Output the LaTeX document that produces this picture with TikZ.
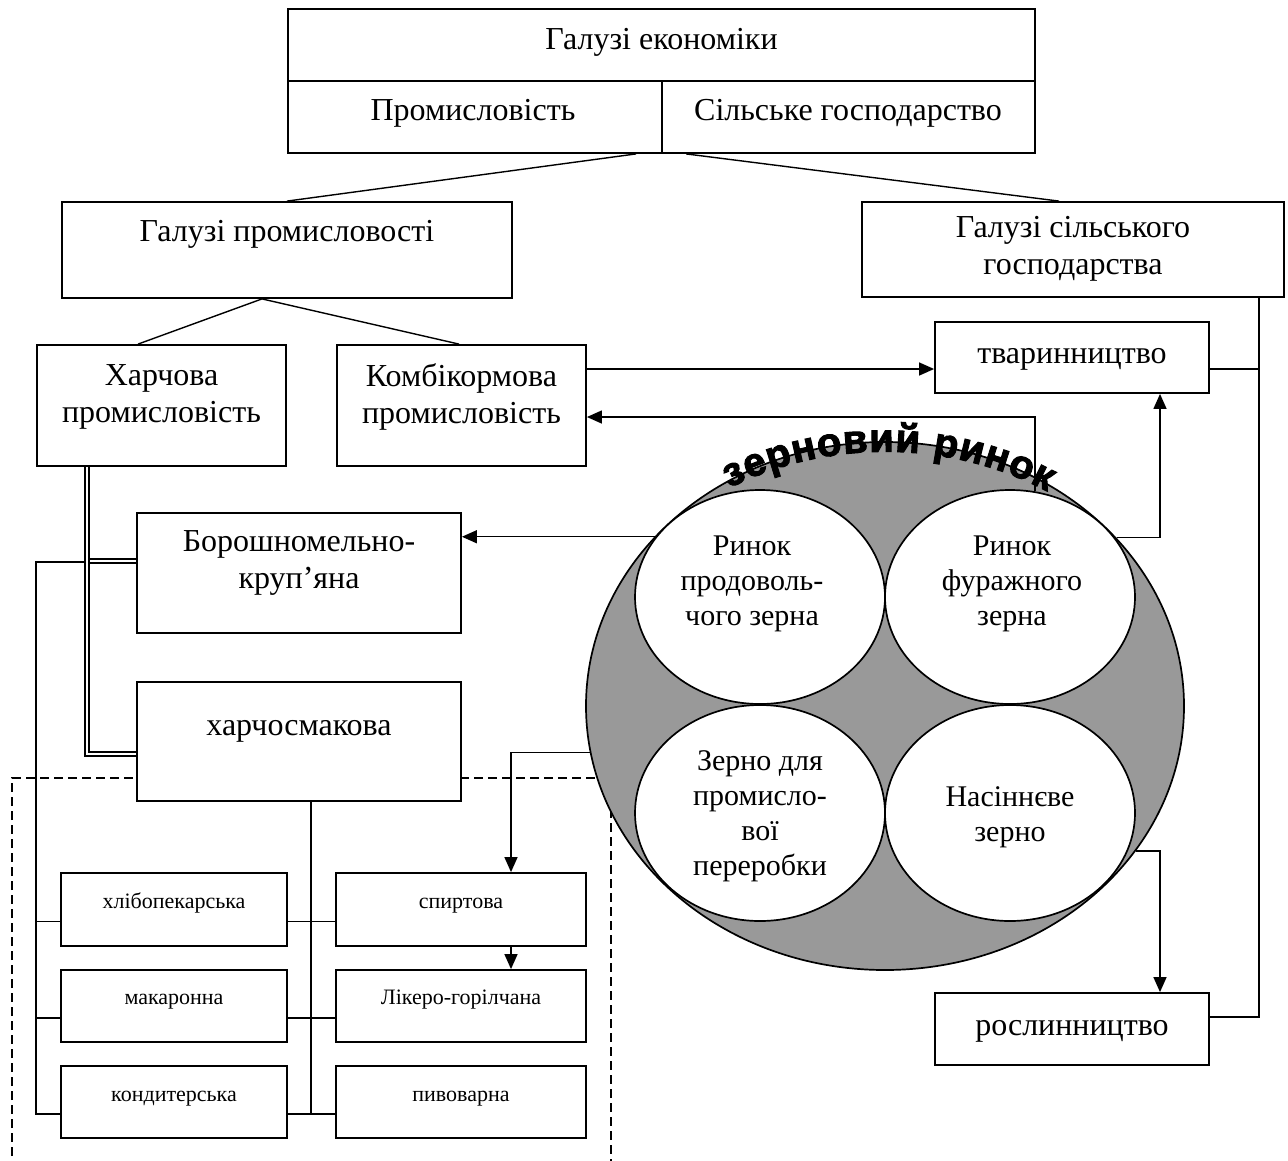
\documentclass[tikz,border=0pt]{standalone}
\usepackage{fontspec}
\setmainfont{Liberation Serif}
\newfontfamily\arcfont{Liberation Sans}[BoldFeatures={FakeBold=2.5}]
\usetikzlibrary{shapes.geometric,arrows.meta,decorations.text,calc}
\definecolor{ringray}{RGB}{153,153,153}
\newcommand\mainsz{\fontsize{32}{37}\selectfont}
\newcommand\ellsz{\fontsize{30}{35}\selectfont}
\newcommand\smallsz{\fontsize{22}{26}\selectfont}
\newcommand\arcsz{\arcfont\bfseries\fontsize{40}{40}\selectfont}
\begin{document}
\begin{tikzpicture}[x=1pt,y=-1pt,
 box/.style={draw,line width=1.8pt,fill=white,inner sep=0pt},
 txt/.style={inner sep=0pt,align=center,font=\mainsz},
 btxt/.style={inner sep=0pt,anchor=base,font=\mainsz},
 etxt/.style={inner sep=0pt,align=center,font=\ellsz},
 stxt/.style={inner sep=0pt,anchor=base,font=\smallsz},
 ln/.style={line width=1.4pt},
 dbl/.style={line width=1.1pt},
 arr/.style={ln,-{Triangle[length=15pt,width=13pt]}},
 dsh/.style={line width=1.3pt,dash pattern=on 9pt off 5pt},
 ell/.style={ellipse,draw,line width=1.7pt,inner sep=0pt}]
\useasboundingbox (0,0) rectangle (1288,1160);

% dashed frame
\draw[dsh] (12,1170) -- (12,778) -- (611,778) -- (611,1170);

% boxes
\node[box,minimum width=747pt,minimum height=72pt] (econ) at (661.5,45) {};
\node[box,minimum width=374pt,minimum height=72pt] (prom) at (475,117) {};
\node[box,minimum width=373pt,minimum height=72pt] (silg) at (848.5,117) {};
\node[box,minimum width=450pt,minimum height=96pt] (galprom) at (287,250) {};
\node[box,minimum width=422pt,minimum height=95pt] (galsg) at (1073,249.5) {};
\node[box,minimum width=249pt,minimum height=121pt] (harch) at (161.5,405.5) {};
\node[box,minimum width=249pt,minimum height=121pt] (komb) at (461.5,405.5) {};
\node[box,minimum width=274pt,minimum height=71pt] (tvar) at (1072,357.5) {};
\node[box,minimum width=324pt,minimum height=120pt] (boro) at (299,573) {};
\node[box,minimum width=324pt,minimum height=119pt] (harchsm) at (299,741.5) {};
\node[box,minimum width=226pt,minimum height=73pt] (hlib) at (174,909.5) {};
\node[box,minimum width=226pt,minimum height=72pt] (makar) at (174,1006) {};
\node[box,minimum width=226pt,minimum height=72pt] (kond) at (174,1102) {};
\node[box,minimum width=250pt,minimum height=73pt] (spirt) at (461,909.5) {};
\node[box,minimum width=250pt,minimum height=72pt] (liker) at (461,1006) {};
\node[box,minimum width=250pt,minimum height=72pt] (pyvo) at (461,1102) {};
\node[box,minimum width=274pt,minimum height=72pt] (rosl) at (1072,1029) {};

% texts
\node[btxt] (t-econ) at (661.5,49) {Галузі економіки};
\node[btxt] (t-prom) at (473,120) {Промисловість};
\node[btxt] (t-silg) at (848,120) {Сільське господарство};
\node[btxt] (t-galprom) at (287,241) {Галузі промисловості};
\node[txt] (t-galsg) at (1073,249) {Галузі сільського\\господарства};
\node[txt] (t-harch) at (161.5,397) {Харчова\\промисловість};
\node[txt] (t-komb) at (461.5,397) {Комбікормова\\промисловість};
\node[btxt] (t-tvar) at (1072,363) {тваринництво};
\node[txt] (t-boro) at (299,563) {Борошномельно-\\круп’яна};
\node[btxt] (t-harchsm) at (299,735) {харчосмакова};
\node[stxt] (t-hlib) at (174,908) {хлібопекарська};
\node[stxt] (t-makar) at (174,1004) {макаронна};
\node[stxt] (t-kond) at (174,1101) {кондитерська};
\node[stxt] (t-spirt) at (461,908) {спиртова};
\node[stxt] (t-liker) at (461,1004) {Лікеро-горілчана};
\node[stxt] (t-pyvo) at (461,1101) {пивоварна};
\node[btxt] (t-rosl) at (1072,1035) {рослинництво};

% grain market
\node[ell,fill=ringray,minimum width=598pt,minimum height=528pt] (big) at (885,706) {};
\node[ell,fill=white,minimum width=250pt,minimum height=214pt] (e1) at (760,597) {};
\node[ell,fill=white,minimum width=250pt,minimum height=214pt] (e2) at (1010,597) {};
\node[ell,fill=white,minimum width=250pt,minimum height=216pt] (e3) at (760,813) {};
\node[ell,fill=white,minimum width=250pt,minimum height=216pt] (e4) at (1010,813) {};
\node[etxt] (t-e1) at (752,584) {Ринок\\продоволь-\\чого зерна};
\node[etxt] (t-e2) at (1012,584) {Ринок\\фуражного\\зерна};
\node[etxt] (t-e3) at (760,816) {Зерно для\\промисло-\\вої\\переробки};
\node[etxt] (t-e4) at (1010,817) {Насіннєве\\зерно};

% connectors
\draw[ln] ($(silg.south west)+(-25,0)$) -- (galprom.north);
\draw[ln] ($(silg.south west)+(25,0)$) -- ($(galsg.north)+(-14,0)$);
\draw[ln] ($(galprom.south)+(-25,0)$) -- ($(harch.north)+(-23.5,0)$);
\draw[ln] ($(galprom.south)+(-25,0)$) -- ($(komb.north)+(-2.5,0)$);
\draw[arr] ($(komb.east)+(0,-36.5)$) -- ($(tvar.west)+(0,11.5)$);
\draw[arr] ($(e2.north)+(25,2)$) |- ($(komb.east)+(0,11.5)$);
\draw[arr] (e1.150) -- (e1.150 -| boro.east);
\draw[arr] (big.36.3) -| ($(tvar.south)+(88,0)$);
\draw[arr] (big.330.2) -| ($(rosl.north)+(88,0)$);
\draw[arr] (big.189.1) -| ($(spirt.north)+(50,0)$);
\draw[arr] ($(spirt.south)+(50,0)$) -- ($(liker.north)+(50,0)$);

% right bus
\coordinate (rb) at ($(galsg.south)+(186,0)$);
\draw[ln] (rb) |- ($(rosl.east)+(0,-12)$);
\draw[ln] ($(tvar.east)+(0,11.5)$) -- ++(50,0);

% double lines
\draw[dbl] ($(harch.south)+(-76.5,0)$) |- ($(harchsm.west)+(0,14.5)$);
\draw[dbl] ($(harch.south)+(-72.5,0)$) |- ($(harchsm.west)+(0,10.5)$);
\draw[dbl] ($(boro.west)+(-48,-14)$) -- ($(boro.west)+(0,-14)$);
\draw[dbl] ($(boro.west)+(-48,-10)$) -- ($(boro.west)+(0,-10)$);

% left bus
\draw[ln] ($(boro.west)+(-52,-11)$) -- ++(-48,0) |- ($(kond.west)+(0,12)$);
\draw[ln] ($(hlib.west)+(-24,12)$) -- ($(hlib.west)+(0,12)$);
\draw[ln] ($(makar.west)+(-24,12)$) -- ($(makar.west)+(0,12)$);

% middle bus
\coordinate (mb) at ($(harchsm.south)+(12,0)$);
\draw[ln] (mb) |- ($(pyvo.west)+(0,12)$);
\draw[ln] ($(kond.east)+(0,12)$) -- ($(pyvo.west)+(0,12)$);
\draw[ln] ($(hlib.east)+(0,12)$) -- ($(spirt.west)+(0,12)$);
\draw[ln] ($(makar.east)+(0,12)$) -- ($(liker.west)+(0,12)$);

% arc title
\path[decorate,decoration={text along path,text={|\arcsz|зерновий ринок},text align={fit to path}}]
  (729.5,488) arc[start angle=121,end angle=57.5,x radius=302pt,y radius=254pt];
\end{tikzpicture}
\end{document}
